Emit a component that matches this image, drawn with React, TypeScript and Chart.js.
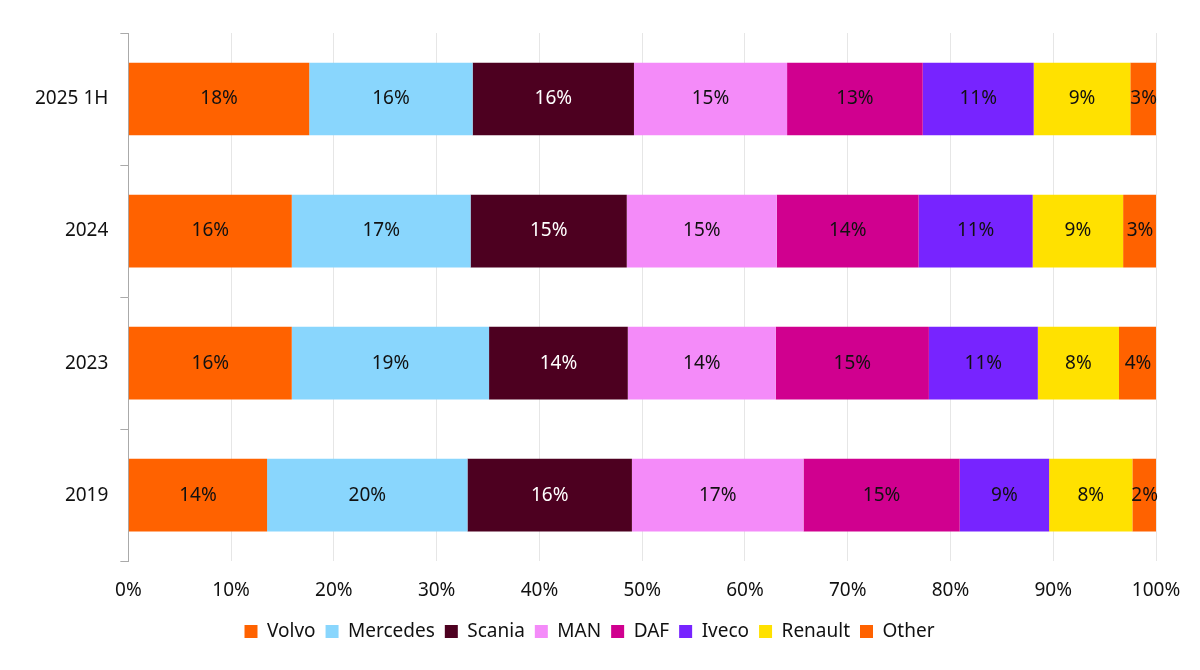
import React, { useEffect, useRef } from "react";
import { Chart, registerables } from "chart.js";
Chart.register(...registerables);

const categories = ["2025 1H", "2024", "2023", "2019"];
const brands = ["Volvo", "Mercedes", "Scania", "MAN", "DAF", "Iveco", "Renault", "Other"];
const colors = ["#FF6200", "#89D6FD", "#4D0020", "#F48BF9", "#D0008F", "#7724FF", "#FFE100", "#FF6200"];
const volvo = [17.6, 15.9, 15.9, 13.5];
const mercedes = [15.9, 17.4, 19.2, 19.5];
const scania = [15.7, 15.2, 13.5, 16.0];
const man = [14.9, 14.6, 14.4, 16.7];
const daf = [13.2, 13.8, 14.9, 15.2];
const iveco = [10.8, 11.1, 10.6, 8.7];
const renault = [9.4, 8.8, 7.9, 8.1];
const other = [2.6, 3.3, 3.7, 2.4];
const series = [volvo, mercedes, scania, man, daf, iveco, renault, other];
const FONT = "'Noto Sans', sans-serif";

const labelPlugin = {
  id: "barLabels",
  afterDatasetsDraw(chart: any) {
    const ctx = chart.ctx;
    ctx.save();
    ctx.font = `19px ${FONT}`;
    ctx.textAlign = "center";
    ctx.textBaseline = "middle";
    chart.data.datasets.forEach((ds: any, di: number) => {
      const meta = chart.getDatasetMeta(di);
      meta.data.forEach((bar: any, i: number) => {
        const v = ds.data[i];
        const x = (bar.x + bar.base) / 2;
        ctx.fillStyle = di === 2 ? "#ffffff" : "#111";
        ctx.fillText(Math.round(v) + "%", x, bar.y);
      });
    });
    ctx.restore();
  },
};

export default function App() {
  const ref = useRef<HTMLCanvasElement>(null);
  useEffect(() => {
    document.body.style.margin = "0";
    const chart = new Chart(ref.current!, {
      type: "bar",
      data: {
        labels: categories,
        datasets: brands.map((b, i) => ({
          label: b,
          data: series[i],
          backgroundColor: colors[i],
          barPercentage: 0.55,
          categoryPercentage: 1,
        })),
      },
      options: {
        indexAxis: "y",
        animation: false,
        responsive: false,
        layout: { padding: { top: 33, right: 44, left: 23, bottom: 19 } },
        scales: {
          x: {
            stacked: true,
            min: 0,
            max: 100,
            afterFit: (s: any) => { s.height -= 8; },
            ticks: { stepSize: 10, callback: (v: any) => v + "%", color: "#111", font: { family: FONT, size: 19 }, padding: 18 },
            grid: { color: "#e6e6e6", drawTicks: false },
            border: { display: false },
          },
          y: {
            stacked: true,
            ticks: { color: "#111", font: { family: FONT, size: 19 }, padding: 12 },
            grid: { display: true, drawOnChartArea: false, color: "#aaa", tickLength: 8, offset: true },
            border: { color: "#aaa" },
          },
        },
        plugins: {
          legend: {
            position: "bottom",
            labels: { boxWidth: 13, boxHeight: 13, color: "#111", font: { family: FONT, size: 19 }, padding: 10 },
          },
          tooltip: { enabled: false },
        },
      },
      plugins: [labelPlugin],
    });
    return () => chart.destroy();
  }, []);
  return <canvas ref={ref} width={1200} height={670} style={{ display: "block" }} />;
}
